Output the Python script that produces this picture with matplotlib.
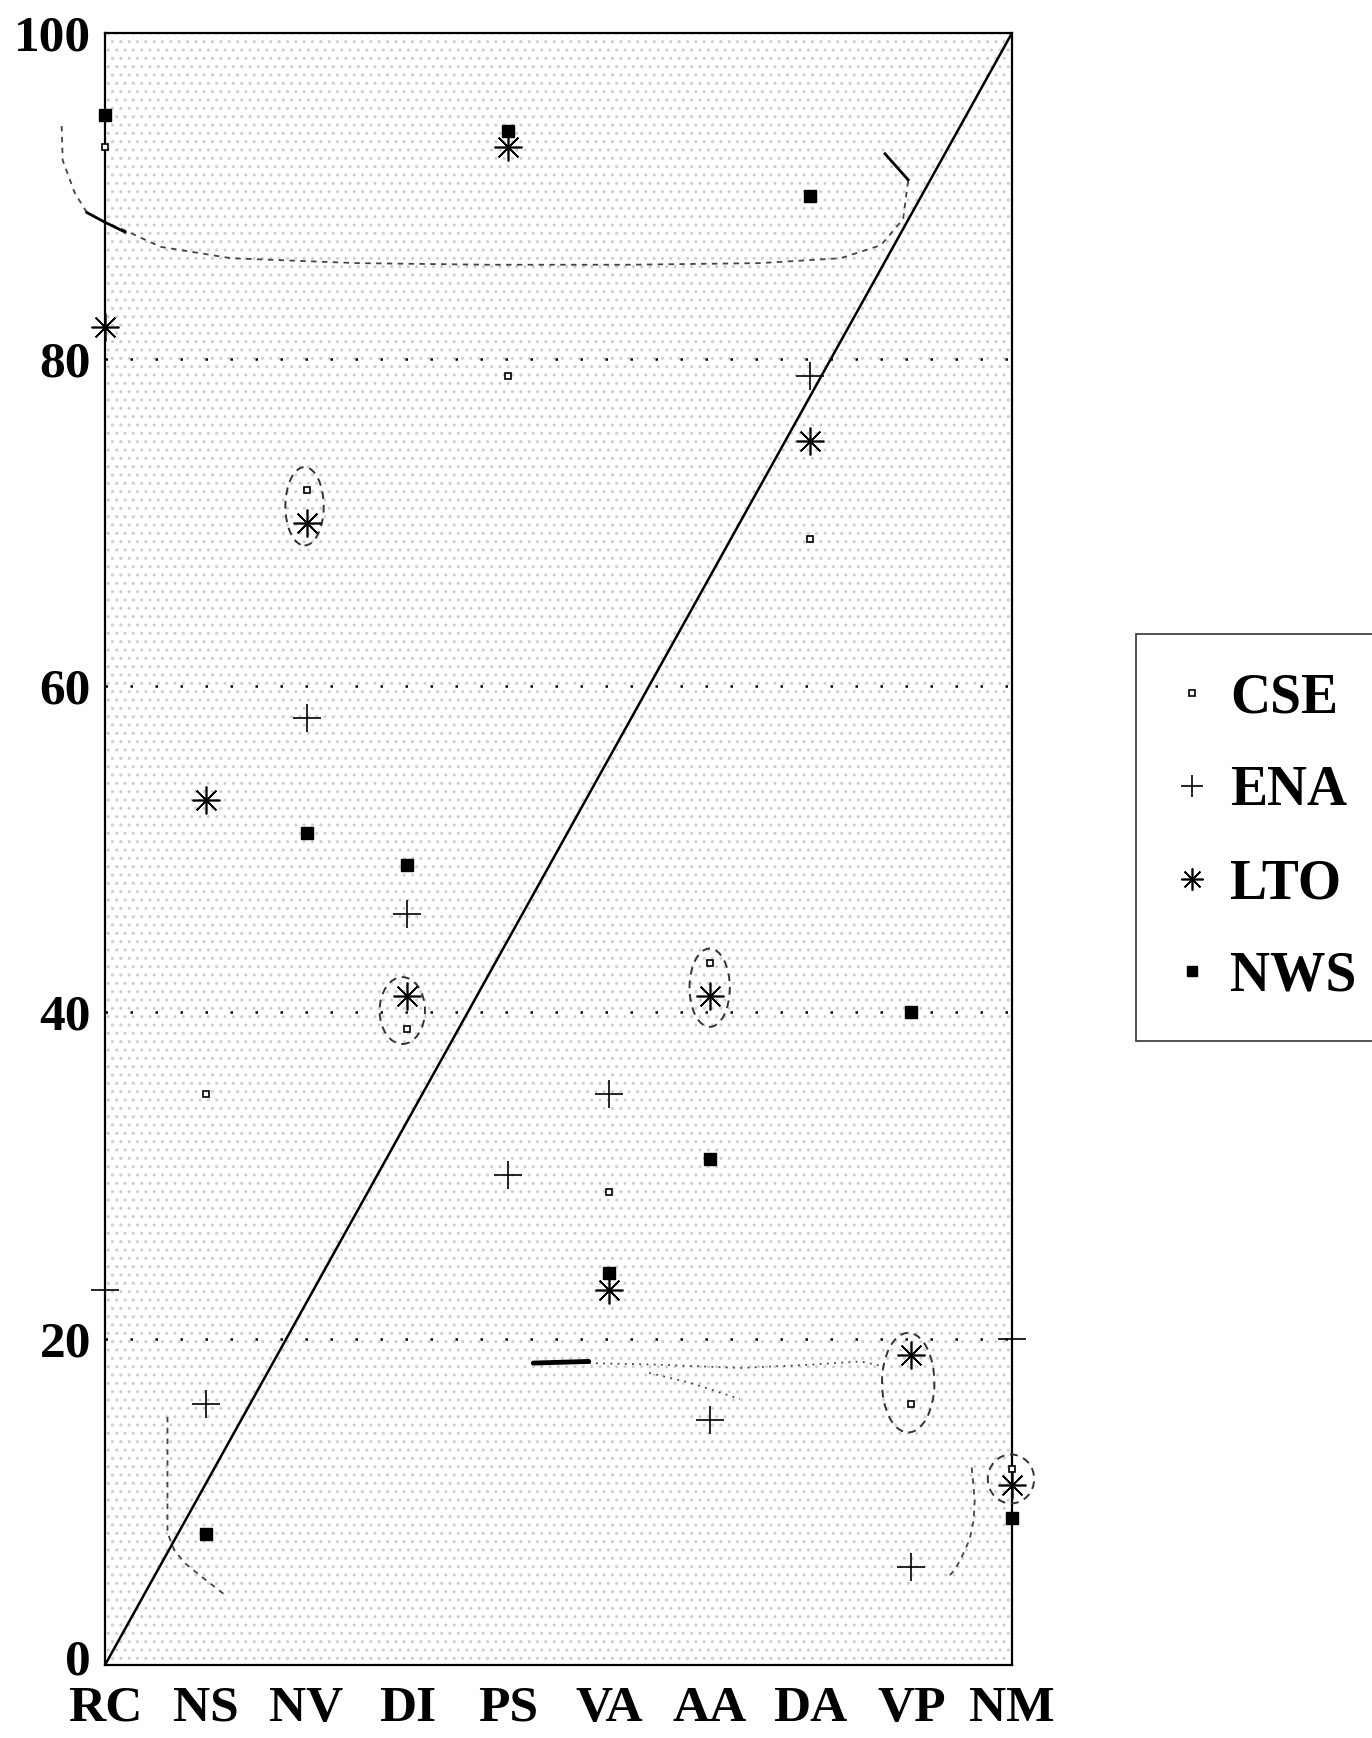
import numpy as np
import matplotlib.pyplot as plt
from matplotlib.patches import Ellipse
from matplotlib.transforms import ScaledTranslation

# categories along the x axis
categories = ['RC', 'NS', 'NV', 'DI', 'PS', 'VA', 'AA', 'DA', 'VP', 'NM']

# series values (percent)
cse = [93, 35, 72, 39, 79, 29, 43, 69, 16, 12]
ena = [23, 16, 58, 46, 30, 35, 15, 79, 6, 20]
lto = [82, 53, 70, 41, 93, 23, 41, 75, 19, 11]
nws = [95, 8, 51, 49, 94, 24, 31, 90, 40, 9]

# reference diagonal
diag_x = [0, 9]
diag_y = [0, 100]

y_ticks = [0, 20, 40, 60, 80, 100]
grid_levels = [20, 40, 60, 80]

# hand-drawn grouping ellipses: (x centre, y centre, width, height)
groups = [(1.98, 71.0, 0.38, 4.8),
          (2.95, 40.1, 0.45, 4.1),
          (6.00, 41.5, 0.40, 4.8),
          (7.97, 17.3, 0.52, 6.1),
          (8.99, 11.4, 0.46, 3.0)]

# hand-drawn curves, as traced points
top_x = [-0.43, -0.42, -0.30, -0.18, 0.0, 0.2, 0.55, 1.25, 2.5, 3.8, 5.2, 6.5, 7.3, 7.7, 7.92, 7.97]
top_y = [94.3, 92.2, 90.2, 89.0, 88.4, 87.9, 86.9, 86.2, 85.9, 85.8, 85.8, 85.9, 86.2, 87.0, 88.6, 91.0]
top_tip_x = [7.97, 7.74]
top_tip_y = [91.0, 92.6]
top_bold_x = [-0.18, 0.0, 0.2]
top_bold_y = [89.0, 88.4, 87.8]

ns_x = [0.62, 0.62, 0.62, 0.69, 0.80, 0.94, 1.21]
ns_y = [15.2, 11.5, 8.1, 7.0, 6.2, 5.5, 4.2]

vp_x = [8.60, 8.63, 8.62, 8.58, 8.50, 8.43, 8.35]
vp_y = [12.1, 10.1, 8.9, 7.7, 6.6, 5.8, 5.3]

link_x = [4.8, 5.5, 6.3, 7.0, 7.5, 7.72]
link_y = [18.5, 18.4, 18.2, 18.4, 18.6, 18.3]
branch_x = [5.4, 5.8, 6.3]
branch_y = [17.9, 17.3, 16.3]
stroke_x = [4.25, 4.8]
stroke_y = [18.5, 18.6]

serif = 'Liberation Serif'

fig = plt.figure(figsize=(13.72, 17.38), dpi=100)
ax = fig.add_axes([105 / 1372, 1 - 1665 / 1738, (1012 - 105) / 1372, (1665 - 33) / 1738])

x = np.arange(len(categories))
ax.set_xlim(0, 9)
ax.set_ylim(0, 100)

# stippled background
ax.add_patch(plt.Rectangle((0, 0), 9, 100, facecolor='white', edgecolor='#cdcdcd',
                           linewidth=0, hatch='..', zorder=0))

for lvl in grid_levels:
    ax.axhline(lvl, color='black', lw=1.8, linestyle=(0, (1, 9)), zorder=1)

ax.plot(diag_x, diag_y, color='black', lw=1.8, zorder=2)

kw = dict(linestyle='none', color='black', clip_on=False, zorder=4)
ax.plot(x, cse, marker='s', ms=5, mfc='white', mec='black', mew=1.2, label='CSE', **kw)
ax.plot(x, ena, marker='+', ms=20, mew=1.2, label='ENA', **kw)
ax.plot(x, lto, marker=(8, 2, 0), ms=20, mew=1.2, label='LTO', **kw)
ax.plot(x, nws, marker='s', ms=9, mfc='black', mec='black', label='NWS', **kw)

for cx, cy, w, h in groups:
    ax.add_patch(Ellipse((cx, cy), w, h, fill=False, edgecolor='#333333', lw=1.4,
                         linestyle=(0, (4, 3)), clip_on=False, zorder=3))

curve_kw = dict(color='#444444', lw=1.3, linestyle=(0, (3, 3)), clip_on=False, zorder=3)
ax.plot(top_x, top_y, **curve_kw)
ax.plot(ns_x, ns_y, **curve_kw)
ax.plot(vp_x, vp_y, **curve_kw)
ax.plot(top_tip_x, top_tip_y, color='black', lw=2, zorder=3)
ax.plot(top_bold_x, top_bold_y, color='black', lw=2, clip_on=False, zorder=3)
ax.plot(link_x, link_y, color='#444444', lw=1.3, linestyle=(0, (1, 3)), zorder=3)
ax.plot(branch_x, branch_y, color='#444444', lw=1.3, linestyle=(0, (1, 3)), zorder=3)
ax.plot(stroke_x, stroke_y, color='black', lw=3.5, solid_capstyle='round', zorder=3)

for s in ax.spines.values():
    s.set_linewidth(1.6)
    s.set_color('black')

ax.set_xticks(x)
ax.set_xticklabels(categories)
ax.set_yticks(y_ticks)
ax.tick_params(length=0)
ax.tick_params(axis='x', pad=15)
ax.tick_params(axis='y', pad=10)
for lab in ax.get_xticklabels() + ax.get_yticklabels():
    lab.set_fontfamily(serif)
    lab.set_fontweight('bold')
    lab.set_fontsize(37)

# lift the "0" a touch so it clears the RC label
zero = ax.get_yticklabels()[0]
zero.set_transform(zero.get_transform() + ScaledTranslation(0, 0.08, fig.dpi_scale_trans))

leg = fig.legend(loc='upper left', bbox_to_anchor=(1136 / 1372, 1 - 634 / 1738),
                 prop={'family': serif, 'weight': 'bold', 'size': 40},
                 frameon=True, fancybox=False, edgecolor='black', borderpad=0.7,
                 labelspacing=0.73, handlelength=0.6, handletextpad=0.4,
                 borderaxespad=0, markerscale=0.8)
leg.get_frame().set_linewidth(1.2)

fig.savefig('out.png', dpi=100)
